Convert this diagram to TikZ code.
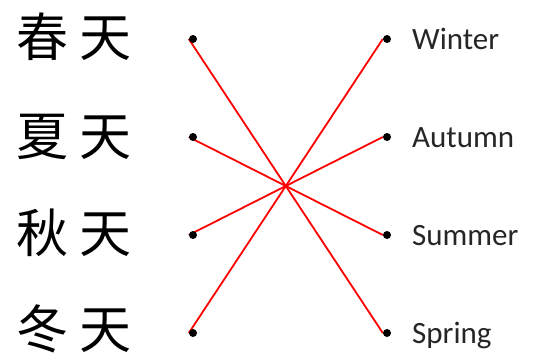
\documentclass[tikz,border=0pt]{standalone}
\usepackage{fontspec}
\setmainfont{Carlito}
\newfontfamily\cjk{Noto Sans CJK SC}
\usetikzlibrary{positioning,backgrounds}

\begin{document}
\begin{tikzpicture}[
x=1pt,y=-1pt,
season/.style={font=\cjk\fontsize{52}{56}\selectfont,inner sep=0pt},
word/.style={font=\fontsize{31}{34}\selectfont,inner sep=0pt,anchor=base west,text=black!85},
dot/.style={circle,fill=black,inner sep=0pt,minimum size=8pt},
link/.style={red,line width=1.8pt}
]
\useasboundingbox (0,0) rectangle (533,359);

\node (spring)[season] at (74,37){春 天};
\node (summer)[season] at (74,137){夏 天};
\node (autumn)[season] at (74,233){秋 天};
\node (winter)[season] at (74,329){冬 天};

\node (d1)[dot] at (193,39){};
\node (d2)[dot] at (193,137){};
\node (d3)[dot] at (193,235){};
\node (d4)[dot] at (193,333){};

\node (e1)[dot] at (387,39){};
\node (e2)[dot] at (387,137){};
\node (e3)[dot] at (387,235){};
\node (e4)[dot] at (387,333){};

\node (en1)[word] at (412,49){Winter};
\node (en2)[word] at (412,147){Autumn};
\node (en3)[word] at (412,245){Summer};
\node (en4)[word] at (412,343){Spring};

\begin{pgfonlayer}{background}
\draw[link](d1.west)--(e4.west);
\draw[link](d2.west)--(e3.west);
\draw[link](d3.west)--(e2.west);
\draw[link](d4.west)--(e1.west);
\end{pgfonlayer}

\end{tikzpicture}
\end{document}
